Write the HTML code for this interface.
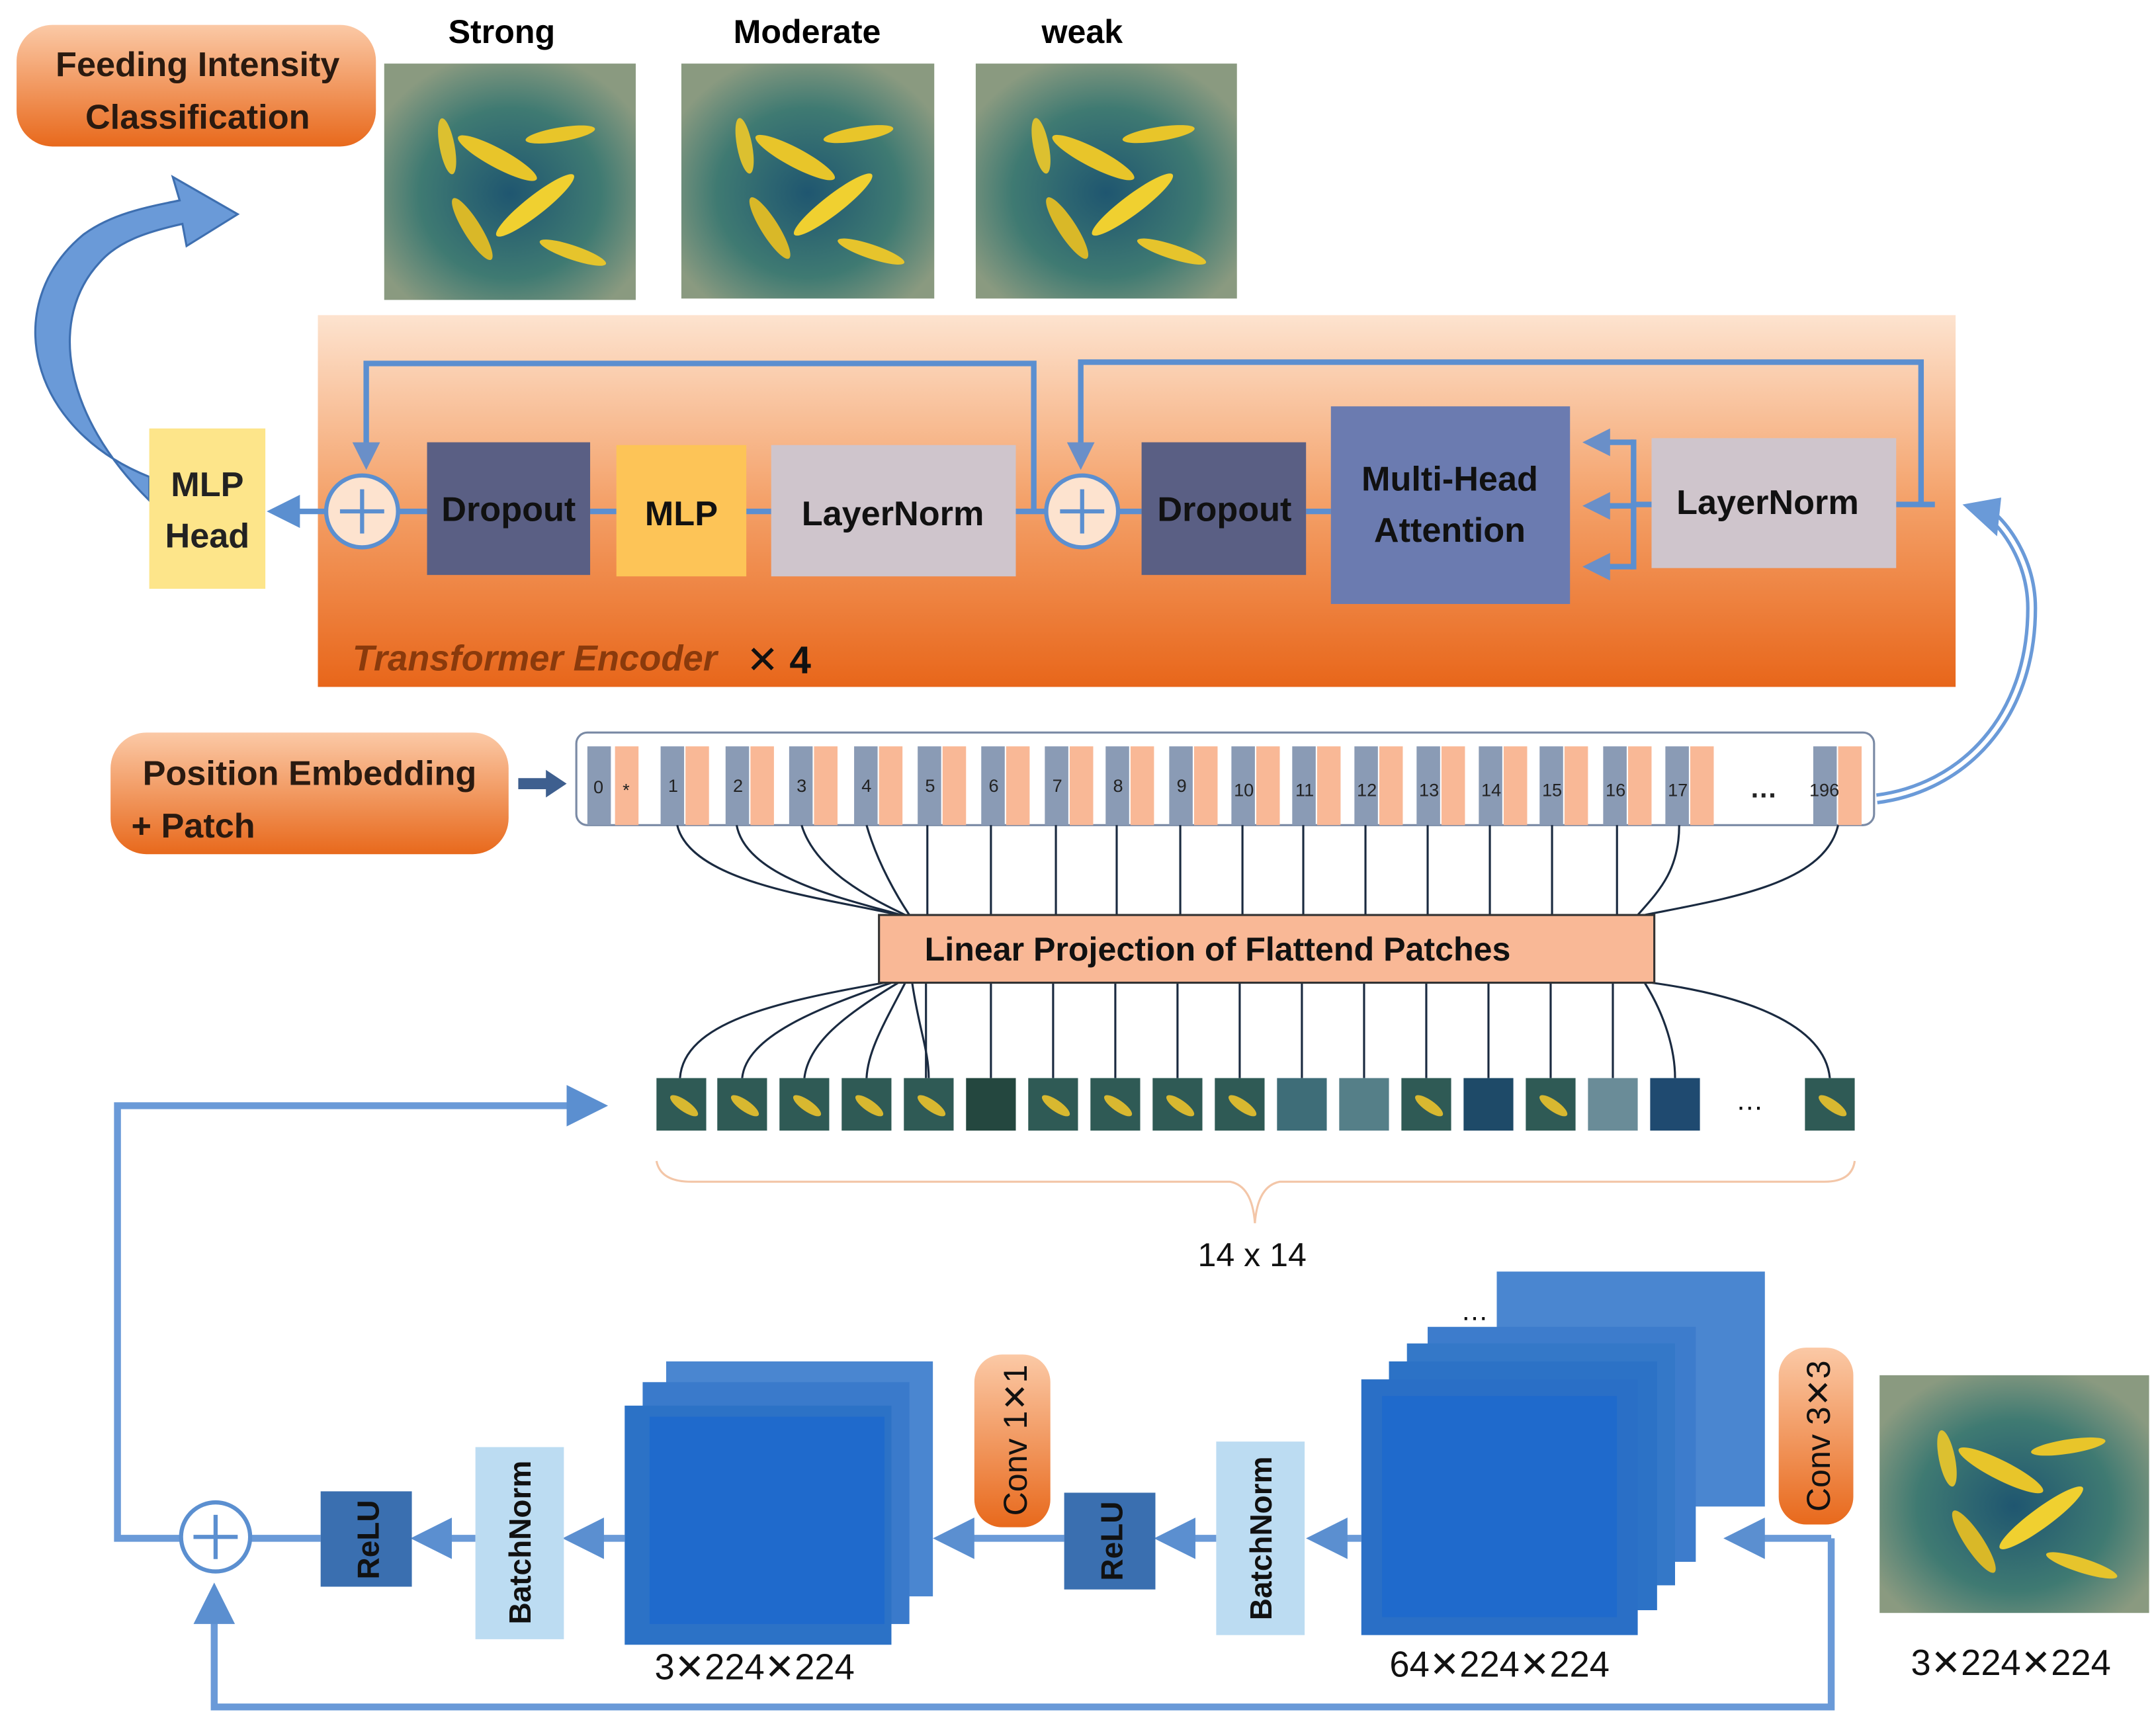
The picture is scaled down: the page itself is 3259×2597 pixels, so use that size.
<!DOCTYPE html>
<html><head><meta charset="utf-8"><style>
html,body{margin:0;padding:0;background:#fff;}
svg{display:block;}
text{font-family:"Liberation Sans","DejaVu Sans",sans-serif;}
</style></head><body>
<svg width="3259" height="2597" viewBox="0 0 1560 1243" preserveAspectRatio="none" xmlns="http://www.w3.org/2000/svg">
<defs>
<linearGradient id="og" x1="0" y1="0" x2="0" y2="1"><stop offset="0" stop-color="#fbc9a6"/><stop offset="1" stop-color="#e8691c"/></linearGradient>
<linearGradient id="enc" x1="0" y1="0" x2="0" y2="1"><stop offset="0" stop-color="#fde3cf"/><stop offset="0.5" stop-color="#f4a169"/><stop offset="1" stop-color="#e8661a"/></linearGradient>
<radialGradient id="tank" cx="0.5" cy="0.55" r="0.6"><stop offset="0" stop-color="#1f5670"/><stop offset="0.6" stop-color="#3f7a72"/><stop offset="1" stop-color="#8a9a80"/></radialGradient>
<marker id="ah" markerWidth="6" markerHeight="6" refX="3" refY="3" orient="auto" markerUnits="strokeWidth"><path d="M0,0 L6,3 L0,6 z" fill="#5b8fd0"/></marker>
<marker id="ah2" markerWidth="5" markerHeight="5" refX="2.5" refY="2.5" orient="auto" markerUnits="strokeWidth"><path d="M0,0 L5,2.5 L0,5 z" fill="#6a8fc8"/></marker>
<g id="photo">
<rect width="100" height="100" fill="url(#tank)"/>
<ellipse cx="45" cy="40" rx="18" ry="4" fill="#e8c52a" transform="rotate(30 45 40)"/>
<ellipse cx="60" cy="60" rx="20" ry="4" fill="#f0d030" transform="rotate(-40 60 60)"/>
<ellipse cx="35" cy="70" rx="15" ry="3.5" fill="#d9b828" transform="rotate(60 35 70)"/>
<ellipse cx="70" cy="30" rx="14" ry="3" fill="#e8c52a" transform="rotate(-10 70 30)"/>
<ellipse cx="25" cy="35" rx="12" ry="3" fill="#dcc030" transform="rotate(80 25 35)"/>
<ellipse cx="75" cy="80" rx="14" ry="3" fill="#e6c42c" transform="rotate(20 75 80)"/>
</g>
<g id="tk"><rect x="0" y="540" width="17" height="57" fill="#8a9bb5"/><rect x="18" y="540" width="17" height="57" fill="#f9b896"/></g>
<g id="pt"><rect width="36" height="38" fill="#2f5a55"/><ellipse cx="20" cy="20" rx="12" ry="4" fill="#d8b830" transform="rotate(35 20 20)"/></g>
</defs>

<!-- Feeding intensity box -->
<rect x="12" y="18" width="260" height="88" rx="26" fill="url(#og)"/>
<text x="143" y="55" font-size="25" font-weight="bold" text-anchor="middle" fill="#2a1a10">Feeding Intensity</text>
<text x="143" y="93" font-size="25" font-weight="bold" text-anchor="middle" fill="#2a1a10">Classification</text>

<text x="363" y="31" font-size="24" font-weight="bold" text-anchor="middle">Strong</text>
<text x="584" y="31" font-size="24" font-weight="bold" text-anchor="middle">Moderate</text>
<text x="783" y="31" font-size="24" font-weight="bold" text-anchor="middle">weak</text>
<use href="#photo" transform="translate(278,46) scale(1.82,1.71)"/>
<use href="#photo" transform="translate(493,46) scale(1.83,1.70)"/>
<use href="#photo" transform="translate(706,46) scale(1.89,1.70)"/>

<!-- curved arrow -->
<path d="M108,345 C20,310 0,220 60,170 C80,155 105,150 130,145 L125,128 L172,155 L135,178 L132,162 C105,168 85,175 72,190 C35,230 45,300 108,362 Z" fill="#6a9ad8" stroke="#3e6fb0" stroke-width="1.5"/>

<!-- encoder -->
<rect x="230" y="228" width="1185" height="269" fill="url(#enc)"/>
<rect x="108" y="310" width="84" height="116" fill="#fde58a"/>
<text x="150" y="359" font-size="25" font-weight="bold" text-anchor="middle" fill="#222">MLP</text>
<text x="150" y="396" font-size="25" font-weight="bold" text-anchor="middle" fill="#222">Head</text>

<g stroke="#5b8fd0" stroke-width="4" fill="none">
<line x1="236" y1="370" x2="205" y2="370" marker-end="url(#ah)"/>
<line x1="288" y1="370" x2="309" y2="370"/>
<line x1="427" y1="370" x2="446" y2="370"/>
<line x1="540" y1="370" x2="558" y2="370"/>
<line x1="735" y1="370" x2="757" y2="370"/>
<polyline points="748,370 748,263 265,263 265,330" marker-end="url(#ah2)"/>
<line x1="809" y1="370" x2="826" y2="370"/>
<line x1="945" y1="370" x2="963" y2="370"/>
<line x1="1372" y1="365" x2="1400" y2="365"/>
<polyline points="1390,365 1390,262 782,262 782,330" marker-end="url(#ah2)"/>
<line x1="1195" y1="365" x2="1182" y2="365"/>
<line x1="1182" y1="318" x2="1182" y2="412"/>
<line x1="1182" y1="320" x2="1155" y2="320" marker-end="url(#ah2)"/>
<line x1="1182" y1="366" x2="1155" y2="366" marker-end="url(#ah2)"/>
<line x1="1182" y1="410" x2="1155" y2="410" marker-end="url(#ah2)"/>
</g>
<circle cx="262" cy="370" r="26" fill="#fde3cf" stroke="#5b8fd0" stroke-width="3"/>
<path d="M246,370 H278 M262,354 V386" stroke="#5b8fd0" stroke-width="3"/>
<circle cx="783" cy="370" r="26" fill="#fde3cf" stroke="#5b8fd0" stroke-width="3"/>
<path d="M767,370 H799 M783,354 V386" stroke="#5b8fd0" stroke-width="3"/>

<rect x="309" y="320" width="118" height="96" fill="#5a5f84"/>
<text x="368" y="377" font-size="25" font-weight="bold" text-anchor="middle" fill="#111">Dropout</text>
<rect x="446" y="322" width="94" height="95" fill="#fdc457"/>
<text x="493" y="380" font-size="25" font-weight="bold" text-anchor="middle" fill="#111">MLP</text>
<rect x="558" y="322" width="177" height="95" fill="#cfc5cc"/>
<text x="646" y="380" font-size="25" font-weight="bold" text-anchor="middle" fill="#111">LayerNorm</text>
<rect x="826" y="320" width="119" height="96" fill="#5a5f84"/>
<text x="886" y="377" font-size="25" font-weight="bold" text-anchor="middle" fill="#111">Dropout</text>
<rect x="963" y="294" width="173" height="143" fill="#6b7bb0"/>
<text x="1049" y="355" font-size="25" font-weight="bold" text-anchor="middle" fill="#111">Multi-Head</text>
<text x="1049" y="392" font-size="25" font-weight="bold" text-anchor="middle" fill="#111">Attention</text>
<rect x="1195" y="317" width="177" height="94" fill="#cfc5cc"/>
<text x="1279" y="372" font-size="25" font-weight="bold" text-anchor="middle" fill="#111">LayerNorm</text>
<text x="255" y="485" font-size="26" font-style="italic" font-weight="bold" fill="#8a3a0c">Transformer Encoder</text>
<text x="540" y="487" font-size="28" font-weight="bold" fill="#111">✕ 4</text>

<!-- right curved arrow -->
<path d="M1358,578 C1420,570 1470,520 1470,440 C1470,410 1455,385 1440,372" fill="none" stroke="#6a9ad8" stroke-width="8"/>
<path d="M1358,578 C1420,570 1470,520 1470,440 C1470,410 1455,385 1440,372" fill="none" stroke="#fff" stroke-width="3"/>
<path d="M1420,365 L1448,360 L1445,388 Z" fill="#6a9ad8"/>

<!-- position embedding -->
<rect x="80" y="530" width="288" height="88" rx="26" fill="url(#og)"/>
<text x="224" y="568" font-size="25" font-weight="bold" text-anchor="middle" fill="#2a1a10">Position Embedding</text>
<text x="95" y="606" font-size="25" font-weight="bold" fill="#2a1a10">+ Patch</text>
<path d="M375,563 H395 V557 L410,567 L395,577 V571 H375 Z" fill="#3e5f8f"/>

<rect x="417" y="530" width="939" height="67" rx="8" fill="#fff" stroke="#7a8aa5" stroke-width="1.5"/>
<g font-size="13" fill="#222" text-anchor="middle">
<rect x="425" y="540" width="17" height="57" fill="#8a9bb5"/><rect x="445" y="540" width="17" height="57" fill="#f9b896"/>
<text x="433" y="574">0</text><text x="453" y="576">*</text>
<use href="#tk" x="478"/><text x="487" y="573">1</text>
<use href="#tk" x="525"/><text x="534" y="573">2</text>
<use href="#tk" x="571"/><text x="580" y="573">3</text>
<use href="#tk" x="618"/><text x="627" y="573">4</text>
<use href="#tk" x="664"/><text x="673" y="573">5</text>
<use href="#tk" x="710"/><text x="719" y="573">6</text>
<use href="#tk" x="756"/><text x="765" y="573">7</text>
<use href="#tk" x="800"/><text x="809" y="573">8</text>
<use href="#tk" x="846"/><text x="855" y="573">9</text>
<use href="#tk" x="891"/><text x="900" y="576">10</text>
<use href="#tk" x="935"/><text x="944" y="576">11</text>
<use href="#tk" x="980"/><text x="989" y="576">12</text>
<use href="#tk" x="1025"/><text x="1034" y="576">13</text>
<use href="#tk" x="1070"/><text x="1079" y="576">14</text>
<use href="#tk" x="1114"/><text x="1123" y="576">15</text>
<use href="#tk" x="1160"/><text x="1169" y="576">16</text>
<use href="#tk" x="1205"/><text x="1214" y="576">17</text>
<text x="1276" y="577" font-size="20" font-weight="bold">…</text>
<use href="#tk" x="1312"/><text x="1320" y="576">196</text>
</g>

<!-- connectors -->
<g stroke="#1a2a40" stroke-width="1.5" fill="none">
<path d="M490,597 C500,640 600,650 650,662"/>
<path d="M533,597 C540,635 610,650 652,662"/>
<path d="M580,597 C590,630 630,650 655,662"/>
<path d="M627,597 C635,625 650,650 658,662"/>
<path d="M1190,662 C1250,650 1320,640 1330,597"/>
<path d="M1185,662 C1200,645 1215,630 1215,597"/>
<line x1="671" y1="597" x2="671" y2="662"/><line x1="717" y1="597" x2="717" y2="662"/>
<line x1="764" y1="597" x2="764" y2="662"/><line x1="808" y1="597" x2="808" y2="662"/>
<line x1="854" y1="597" x2="854" y2="662"/><line x1="899" y1="597" x2="899" y2="662"/>
<line x1="943" y1="597" x2="943" y2="662"/><line x1="988" y1="597" x2="988" y2="662"/>
<line x1="1033" y1="597" x2="1033" y2="662"/><line x1="1078" y1="597" x2="1078" y2="662"/>
<line x1="1123" y1="597" x2="1123" y2="662"/><line x1="1170" y1="597" x2="1170" y2="662"/>
<path d="M640,711 C560,725 495,740 492,780"/>
<path d="M645,711 C590,730 540,750 537,780"/>
<path d="M650,711 C610,735 585,755 582,780"/>
<path d="M655,711 C640,740 628,760 627,780"/>
<path d="M660,711 C665,745 672,760 672,780"/>
<path d="M1195,711 C1260,720 1320,740 1324,780"/>
<path d="M1190,711 C1205,735 1212,760 1212,780"/>
<line x1="670" y1="711" x2="670" y2="780"/><line x1="717" y1="711" x2="717" y2="780"/>
<line x1="762" y1="711" x2="762" y2="780"/><line x1="807" y1="711" x2="807" y2="780"/>
<line x1="852" y1="711" x2="852" y2="780"/><line x1="897" y1="711" x2="897" y2="780"/>
<line x1="942" y1="711" x2="942" y2="780"/><line x1="987" y1="711" x2="987" y2="780"/>
<line x1="1032" y1="711" x2="1032" y2="780"/><line x1="1077" y1="711" x2="1077" y2="780"/>
<line x1="1122" y1="711" x2="1122" y2="780"/><line x1="1167" y1="711" x2="1167" y2="780"/>
</g>
<rect x="636" y="662" width="561" height="49" fill="#f9b896" stroke="#333" stroke-width="1.5"/>
<text x="881" y="695" font-size="24" font-weight="bold" text-anchor="middle" fill="#111">Linear Projection of Flattend Patches</text>

<!-- patches -->
<g>
<use href="#pt" x="475" y="780"/><use href="#pt" x="519" y="780"/><use href="#pt" x="564" y="780"/>
<use href="#pt" x="609" y="780"/><use href="#pt" x="654" y="780"/>
<rect x="699" y="780" width="36" height="38" fill="#24473f"/>
<use href="#pt" x="744" y="780"/><use href="#pt" x="789" y="780"/><use href="#pt" x="834" y="780"/>
<use href="#pt" x="879" y="780"/>
<rect x="924" y="780" width="36" height="38" fill="#3e6d78"/><rect x="969" y="780" width="36" height="38" fill="#557f88"/>
<use href="#pt" x="1014" y="780"/>
<rect x="1059" y="780" width="36" height="38" fill="#1e4a68"/>
<use href="#pt" x="1104" y="780"/>
<rect x="1149" y="780" width="36" height="38" fill="#6a8c98"/><rect x="1194" y="780" width="36" height="38" fill="#1f4a70"/>
<text x="1266" y="803" font-size="20" text-anchor="middle">…</text>
<use href="#pt" x="1306" y="780"/>
</g>
<path d="M475,840 Q478,855 500,855 L890,855 Q906,858 908,885 Q910,858 926,855 L1320,855 Q1340,855 1342,840" fill="none" stroke="#f3c6a8" stroke-width="1.5"/>
<text x="906" y="916" font-size="24" text-anchor="middle" fill="#111">14 x 14</text>

<!-- bottom section -->
<use href="#photo" transform="translate(1360,995) scale(1.95,1.72)"/>
<text x="1455" y="1212" font-size="26" text-anchor="middle" fill="#111">3✕224✕224</text>
<rect x="1287" y="975" width="54" height="128" rx="20" fill="url(#og)"/>
<text transform="translate(1324,1039) rotate(-90)" font-size="24" text-anchor="middle" fill="#111">Conv 3✕3</text>

<g stroke="#6a9ad8" stroke-width="5" fill="none">
<polyline points="1325,1113 1325,1235 155,1235 155,1160" marker-end="url(#ah)"/>
<line x1="1325" y1="1113" x2="1262" y2="1113" marker-end="url(#ah)"/>
<line x1="985" y1="1113" x2="960" y2="1113" marker-end="url(#ah)"/>
<line x1="880" y1="1113" x2="850" y2="1113" marker-end="url(#ah)"/>
<line x1="770" y1="1113" x2="690" y2="1113" marker-end="url(#ah)"/>
<line x1="452" y1="1113" x2="422" y2="1113" marker-end="url(#ah)"/>
<line x1="344" y1="1113" x2="312" y2="1113" marker-end="url(#ah)"/>
<line x1="232" y1="1113" x2="181" y2="1113"/>
<polyline points="131,1113 85,1113 85,800 425,800" marker-end="url(#ah)"/>
</g>
<circle cx="156" cy="1112" r="25" fill="#fff" stroke="#5b8fd0" stroke-width="3"/>
<path d="M140,1112 H172 M156,1096 V1128" stroke="#5b8fd0" stroke-width="3"/>

<!-- 64 stack -->
<rect x="1083" y="920" width="194" height="170" fill="#4a86d0"/>
<rect x="1033" y="960" width="194" height="170" fill="#3d7ccc"/>
<rect x="1018" y="972" width="194" height="175" fill="#3478c8"/>
<rect x="1005" y="985" width="194" height="180" fill="#2c72c6"/>
<rect x="985" y="998" width="200" height="185" fill="#2a6fc6"/>
<rect x="1000" y="1010" width="170" height="160" fill="#1f6acc"/>
<text x="1067" y="955" font-size="20" text-anchor="middle">…</text>
<text x="1085" y="1213" font-size="26" text-anchor="middle" fill="#111">64✕224✕224</text>

<rect x="880" y="1043" width="64" height="140" fill="#bcdcf2"/>
<text transform="translate(920,1113) rotate(-90)" font-size="22" font-weight="bold" text-anchor="middle" fill="#111">BatchNorm</text>
<rect x="770" y="1080" width="66" height="70" fill="#3a6fb0"/>
<text transform="translate(812,1115) rotate(-90)" font-size="22" font-weight="bold" text-anchor="middle" fill="#111">ReLU</text>
<rect x="705" y="980" width="55" height="125" rx="20" fill="url(#og)"/>
<text transform="translate(743,1042) rotate(-90)" font-size="24" text-anchor="middle" fill="#111">Conv 1✕1</text>

<!-- 3 stack -->
<rect x="482" y="985" width="193" height="170" fill="#4a86d0"/>
<rect x="465" y="1000" width="193" height="175" fill="#3a7acb"/>
<rect x="452" y="1017" width="193" height="173" fill="#2c72c6"/>
<rect x="470" y="1025" width="170" height="150" fill="#1f6acc"/>
<text x="546" y="1215" font-size="26" text-anchor="middle" fill="#111">3✕224✕224</text>

<rect x="344" y="1047" width="64" height="139" fill="#bcdcf2"/>
<text transform="translate(384,1116) rotate(-90)" font-size="22" font-weight="bold" text-anchor="middle" fill="#111">BatchNorm</text>
<rect x="232" y="1079" width="66" height="69" fill="#3a6fb0"/>
<text transform="translate(274,1114) rotate(-90)" font-size="22" font-weight="bold" text-anchor="middle" fill="#111">ReLU</text>
</svg>
</body></html>
